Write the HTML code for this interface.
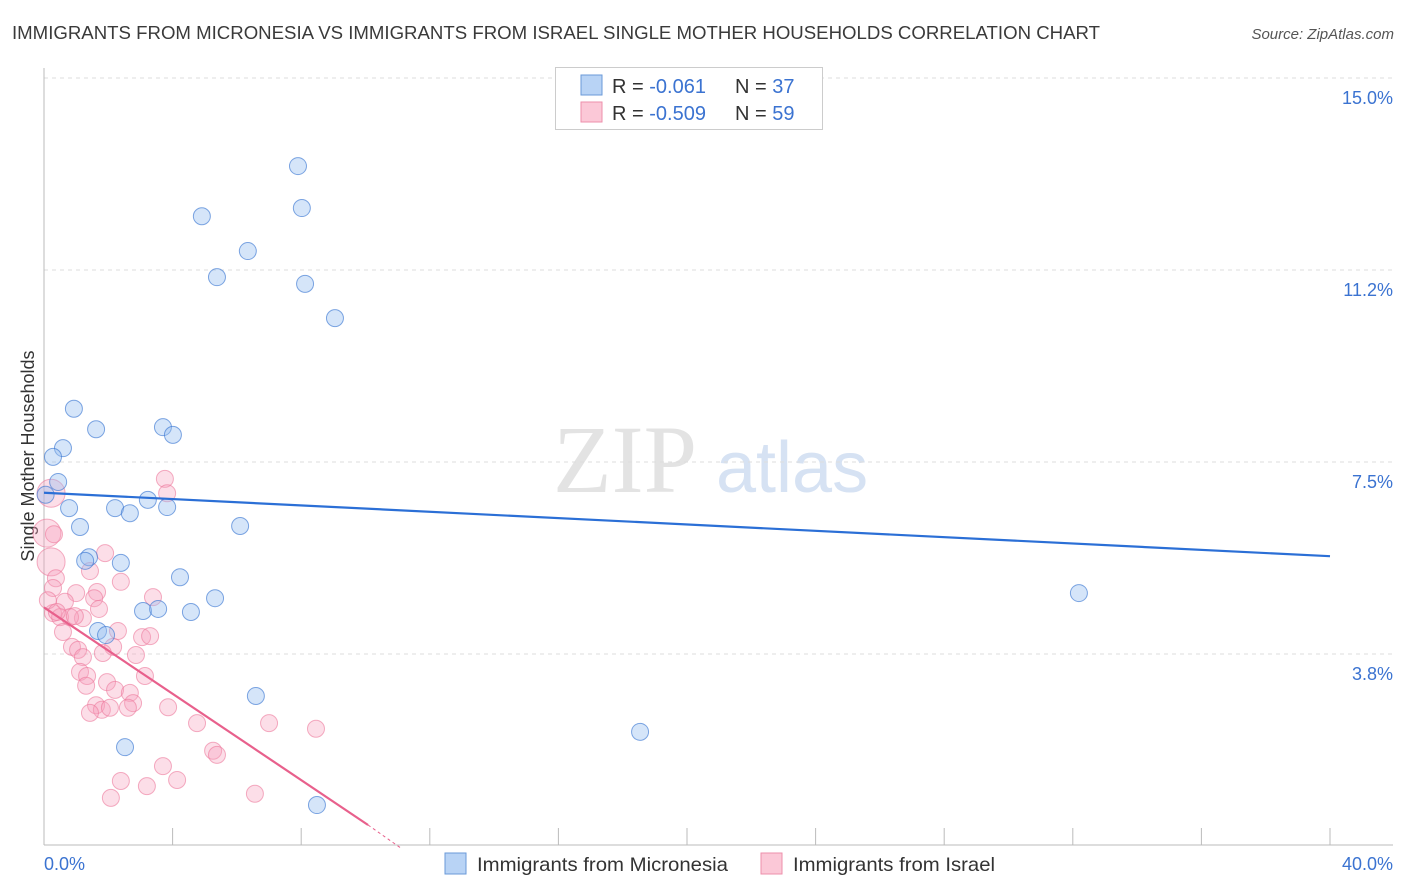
<!DOCTYPE html>
<html><head><meta charset="utf-8"><style>
body{margin:0;background:#fff;font-family:"Liberation Sans",sans-serif;}
svg{display:block}
</style></head><body>
<svg id="chart" width="1406" height="892" xmlns="http://www.w3.org/2000/svg">
<text x="12" y="39" font-size="18" fill="#3a3a3a" textLength="1088" lengthAdjust="spacingAndGlyphs">IMMIGRANTS FROM MICRONESIA VS IMMIGRANTS FROM ISRAEL SINGLE MOTHER HOUSEHOLDS CORRELATION CHART</text>
<text x="1394" y="39" font-size="15" fill="#555" font-style="italic" text-anchor="end">Source: ZipAtlas.com</text>
<g>
<text x="553" y="492" font-size="96" font-family="Liberation Serif,serif" fill="#e3e3e3">ZIP</text>
<text x="716" y="492" font-size="72" fill="#d6e2f3">atlas</text>
</g>
<g id="grid"></g>
<g id="axes"></g>
<text transform="translate(34,456) rotate(-90)" font-size="18" fill="#333" text-anchor="middle">Single Mother Households</text>
<g id="pts"></g>
<g id="lines"></g>
<g>
<rect x="555.5" y="67.5" width="267" height="62" fill="#fff" stroke="#ccc"/>
<rect x="581" y="75" width="21" height="20" fill="#b8d3f5" stroke="#6a9ad8"/>
<rect x="581" y="102" width="21" height="20" fill="#fbc8d7" stroke="#ee8fab"/>
<text x="612" y="93" font-size="20" fill="#333">R = <tspan fill="#3b73d1"> -0.061</tspan></text>
<text x="735" y="93" font-size="20" fill="#333">N = <tspan fill="#3b73d1">37</tspan></text>
<text x="612" y="120" font-size="20" fill="#333">R = <tspan fill="#3b73d1">-0.509</tspan></text>
<text x="735" y="120" font-size="20" fill="#333">N = <tspan fill="#3b73d1">59</tspan></text>
</g>
<g>
<rect x="445" y="853" width="21" height="21" fill="#b8d3f5" stroke="#6a9ad8"/>
<text x="477" y="871" font-size="19.5" fill="#333" textLength="251" lengthAdjust="spacingAndGlyphs">Immigrants from Micronesia</text>
<text x="793" y="871" font-size="19.5" fill="#333" textLength="202" lengthAdjust="spacingAndGlyphs">Immigrants from Israel</text>
<rect x="761" y="853" width="21" height="21" fill="#fbc8d7" stroke="#ee8fab"/>
</g>
</svg>
<script>
const xTicks=[0,40];
const yTicks=[3.75,7.5,11.25,15];
const yTickLabels=["3.8%","7.5%","11.2%","15.0%"];
const blueX=[7.90,8.02,4.91,6.34,5.38,8.12,9.05,0.93,1.62,3.70,4.01,0.59,0.28,0.44,0.05,0.78,2.21,2.67,3.23,3.83,1.12,6.10,1.40,1.28,2.39,4.23,5.32,3.08,3.55,4.57,1.68,1.93,6.59,2.52,18.54,8.49,32.19];
const blueY=[13.28,12.46,12.30,11.62,11.11,10.98,10.31,8.54,8.14,8.18,8.03,7.77,7.60,7.11,6.86,6.60,6.60,6.50,6.76,6.62,6.23,6.25,5.64,5.57,5.53,5.25,4.84,4.59,4.63,4.57,4.20,4.12,2.93,1.93,2.23,0.80,4.94];
const pinkX=[0.22,0.09,0.22,3.76,3.83,0.31,0.37,0.28,1.90,1.43,2.39,1.00,1.65,1.56,1.71,3.39,0.65,1.21,0.28,0.50,0.81,0.59,2.30,2.15,3.05,3.30,0.87,1.06,1.21,1.83,2.86,1.12,1.34,3.14,1.96,1.31,2.21,2.67,2.77,2.61,1.62,1.80,2.05,1.43,3.86,4.76,7.00,8.46,5.26,5.38,3.70,2.39,4.14,3.20,2.08,6.56,0.12,0.40,0.96];
const pinkY=[5.55,6.11,6.89,7.17,6.89,6.09,5.23,5.04,5.72,5.37,5.16,4.94,4.96,4.84,4.63,4.86,4.77,4.45,4.55,4.47,4.47,4.18,4.20,3.89,4.08,4.10,3.89,3.83,3.69,3.77,3.73,3.40,3.32,3.32,3.20,3.13,3.05,2.99,2.79,2.70,2.75,2.66,2.70,2.60,2.71,2.40,2.40,2.29,1.86,1.78,1.56,1.27,1.29,1.17,0.94,1.02,4.80,4.57,4.49];
const pinkBig=[1,1,1];
const blueTrend=[6.90,5.66];
const pinkTrend=[4.66,0.41,-0.04];
const pinkTrendX=[0,10.08,11.1];

const X0=44,X1=1330,Y0=78,YS=51.2;
const sx=v=>X0+(X1-X0)*v/40;
const sy=v=>Y0+(15-v)*YS;
const NS="http://www.w3.org/2000/svg";
function mk(tag,attrs,parent){const e=document.createElementNS(NS,tag);for(const k in attrs)e.setAttribute(k,attrs[k]);parent.appendChild(e);return e;}
const grid=document.getElementById('grid'),axes=document.getElementById('axes');
yTicks.forEach((t,i)=>{
 const l=mk('line',{x1:44,x2:1393,y1:sy(t),y2:sy(t),stroke:'#ddd','stroke-dasharray':'4,4'},grid);
 
 
 const tx=mk('text',{x:1393,y:sy(t)+26,'font-size':18,fill:'#3b73d1','text-anchor':'end'},axes);
 tx.textContent=yTickLabels[i];
 
 
});
mk('line',{x1:44,x2:44,y1:68,y2:845,stroke:'#bbb'},axes);
mk('line',{x1:44,x2:1393,y1:845,y2:845,stroke:'#bbb'},axes);
for(let i=0;i<=10;i++){const x=sx(i*4);mk('line',{x1:x,x2:x,y1:828,y2:845,stroke:'#bbb'},axes);}
xTicks.forEach((t,i)=>{
 const tx=mk('text',{x:i==0?44:1393,y:870,'font-size':18,fill:'#3b73d1','text-anchor':i==0?'start':'end'},axes);
 tx.textContent=t.toFixed(1)+'%';
 
 
});
const pts=document.getElementById('pts');
pinkX.forEach((x,i)=>{
 const c=mk('circle',{cx:sx(x),cy:sy(pinkY[i]),r:pinkBig[i]?14:8.5,fill:'rgba(246,160,188,0.35)',stroke:'rgba(236,120,155,0.6)','stroke-width':1},pts);
 
 
});
blueX.forEach((x,i)=>{
 const c=mk('circle',{cx:sx(x),cy:sy(blueY[i]),r:8.5,fill:'rgba(150,190,240,0.4)',stroke:'rgba(60,120,210,0.65)','stroke-width':1},pts);
 
 
});
const lines=document.getElementById('lines');
const bl=mk('line',{x1:sx(0),y1:sy(blueTrend[0]),x2:sx(40),y2:sy(blueTrend[1]),stroke:'#2b6fd6','stroke-width':2.2},lines);


const pl=mk('line',{x1:sx(pinkTrendX[0]),y1:sy(pinkTrend[0]),x2:sx(pinkTrendX[1]),y2:sy(pinkTrend[1]),stroke:'#e8608c','stroke-width':2.2},lines);


const pd=mk('line',{x1:sx(pinkTrendX[1]),y1:sy(pinkTrend[1]),x2:sx(pinkTrendX[2]),y2:sy(pinkTrend[2]),stroke:'#e8608c','stroke-width':1,'stroke-dasharray':'3,3'},lines);


</script>
</body></html>
